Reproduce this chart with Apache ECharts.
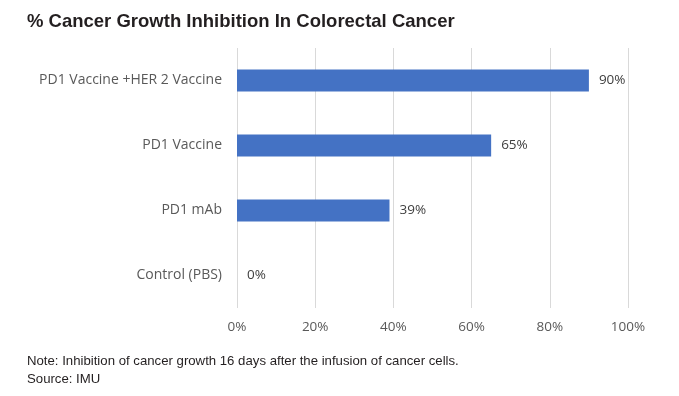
<!DOCTYPE html>
<html><head><meta charset="utf-8">
<script src="https://cdn.jsdelivr.net/npm/echarts@6/dist/echarts.min.js"></script>
<style>html,body{margin:0;padding:0;background:#fff}#c{width:679px;height:396px}</style>
</head><body><div id="c"></div>
<script>
var categories = ["Control (PBS)", "PD1 mAb", "PD1 Vaccine", "PD1 Vaccine +HER 2 Vaccine"];
var values = [0, 39, 65, 90];
var xTicks = [0, 20, 40, 60, 80, 100];
var titleText = "% Cancer Growth Inhibition In Colorectal Cancer";
var noteText = "Note: Inhibition of cancer growth 16 days after the infusion of cancer cells.";
var sourceText = "Source: IMU";

var chart = echarts.init(document.getElementById('c'));
chart.setOption({
  animation: false,
  backgroundColor: '#fff',
  graphic: [
    {type:'text', left:27, top:12, style:{text:titleText, font:'bold 18.5px "Liberation Sans", Arial, sans-serif', fill:'#231f20'}},
    {type:'text', left:27, top:355, style:{text:noteText, font:'13.2px "Liberation Sans", sans-serif', fill:'#231f20'}},
    {type:'text', left:27, top:373, style:{text:sourceText, font:'13.2px "Liberation Sans", sans-serif', fill:'#231f20'}}
  ],
  grid: {left:237, right:51, top:48, bottom:88},
  xAxis: {
    type:'value', min:0, max:100, interval:20,
    axisLine:{show:false}, axisTick:{show:false},
    splitLine:{lineStyle:{color:'#d9d9d9', width:1}},
    axisLabel:{formatter:function(v){return xTicks.indexOf(v)>=0 ? v+'%' : '';}, color:'#595959', fontFamily:'"Open Sans", sans-serif', fontSize:13.5, margin:12}
  },
  yAxis: {
    type:'category', data:categories,
    axisLine:{show:false}, axisTick:{show:false},
    axisLabel:{color:'#595959', fontFamily:'"Open Sans", sans-serif', fontSize:14, margin:15}
  },
  series: [{
    type:'bar', data:values, barWidth:22,
    itemStyle:{color:'#4472c4'},
    label:{show:true, position:'right', distance:10, formatter:'{c}%', color:'#404040', fontFamily:'"Open Sans", sans-serif', fontSize:13.5}
  }]
});
</script></body></html>
